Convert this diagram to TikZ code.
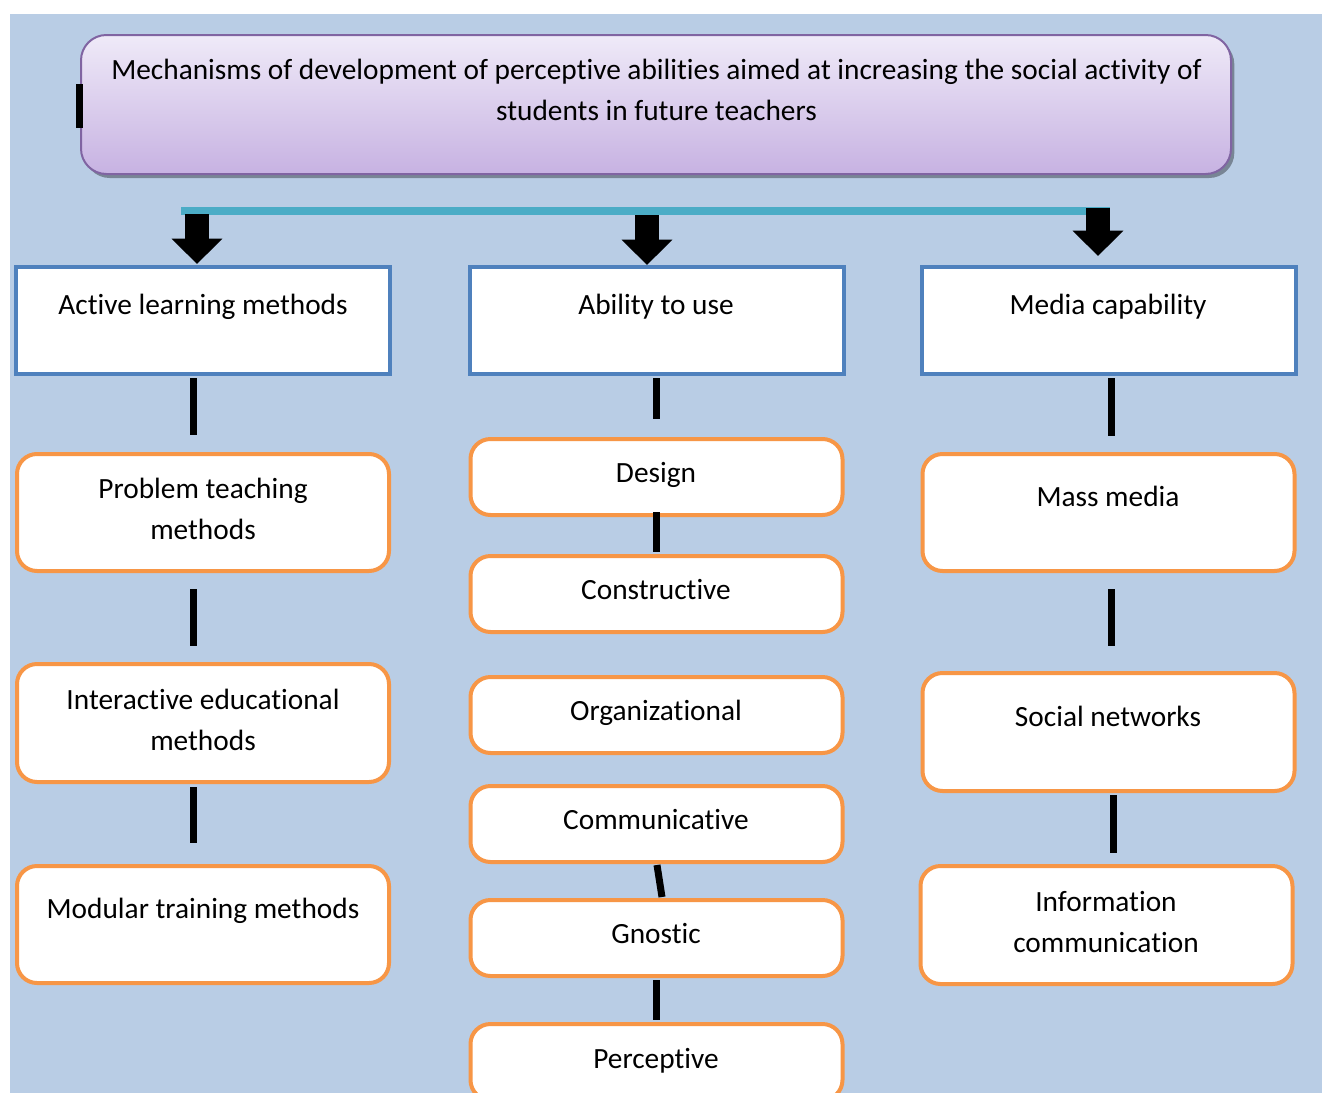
\documentclass[tikz,border=0pt]{standalone}
\usepackage{fontspec}
\setmainfont{Carlito}[Ligatures=NoCommon]
\usetikzlibrary{calc,shadows,arrows.meta}
\definecolor{bgblue}{HTML}{B9CDE5}
\definecolor{boxblue}{HTML}{4F81BD}
\definecolor{boxorange}{HTML}{F79646}
\definecolor{titleborder}{HTML}{8064A2}
\definecolor{titletop}{HTML}{EFEAF8}
\definecolor{titlebot}{HTML}{C7B2E2}
\definecolor{teal}{HTML}{4BACC6}
\begin{document}
\begin{tikzpicture}[x=0.75pt,y=-0.75pt,
  bluebox/.style={draw=boxblue,line width=3pt,fill=white,minimum width=280.5pt,minimum height=80.25pt,inner sep=0pt},
  orangebox/.style={draw=boxorange,line width=3pt,fill=white,rounded corners=15pt,minimum width=279pt,inner sep=0pt},
  titlebox/.style={draw=titleborder,line width=1.5pt,rounded corners=19pt,top color=titletop,bottom color=titlebot,
     minimum width=862.5pt,minimum height=104.25pt,inner sep=0pt,
     drop shadow={shadow xshift=2.5pt,shadow yshift=-3pt,fill=black,opacity=0.35}},
  txt/.style={font=\fontsize{22}{30.75}\selectfont,anchor=base,align=center,inner sep=0pt},
  bar/.style={line width=5.25pt,black},
  blockarrow/.style={line width=18pt,black,-{Triangle[width=37pt,length=19pt]}}
]
\useasboundingbox (0,0) rectangle (1322,1093);
\fill[bgblue] (10,14) rectangle (1322,1093);

% title
\node[titlebox] (title) at (656,104.5) {};
\fill[black] (76,84) rectangle (83,128);
\node[txt] (ttitle) at (656.5,120) {Mechanisms of development of perceptive abilities aimed at increasing the social activity of\\students in future teachers};

% teal bar
\coordinate (tl) at (181,211);
\coordinate (tr) at (1110,211);
\draw[teal,line width=6pt] (tl) -- (tr);

% top boxes
\node[bluebox] (act)   at (203,320.5) {};
\node[bluebox] (abil)  at (656.5,320.5) {};
\node[bluebox] (media) at (1108.5,320.5) {};
\node[txt] (tact)   at (203,314) {Active learning methods};
\node[txt] (tabil)  at (656,314) {Ability to use};
\node[txt] (tmedia) at (1108,314) {Media capability};

% arrows
\coordinate (a1) at (197,214);
\coordinate (a2) at (647,215);
\coordinate (a3) at (1098,208);
\draw[blockarrow] (a1) -- ($(act.north)+(-6,-1)$);
\draw[blockarrow] (a2) -- ($(abil.north)+(-9.5,-0)$);
\draw[blockarrow] (a3) -- ($(media.north)+(-10.5,-9)$);

% left column
\node[orangebox,minimum height=87.75pt] (prob)  at (203,512.5) {};
\node[orangebox,minimum height=88.5pt]  (inter) at (203,723) {};
\node[orangebox,minimum height=87.75pt] (mod)   at (203,924.5) {};
\node[txt] (tprob)  at (203,539) {Problem teaching\\methods};
\node[txt] (tinter) at (203,750) {Interactive educational\\methods};
\node[txt] (tmod)   at (203,918) {Modular training methods};

% middle column
\node[orangebox,minimum height=57pt] (des)  at (656.5,477) {};
\node[orangebox,minimum height=57pt] (cons) at (656.5,594) {};
\node[orangebox,minimum height=57pt] (org)  at (656.5,715) {};
\node[orangebox,minimum height=57pt] (comm) at (656.5,824) {};
\node[orangebox,minimum height=57pt] (gnos) at (656.5,938) {};
\node[orangebox,minimum height=57pt] (perc) at (656.5,1062) {};
\node[txt] (tdes)  at (656,482) {Design};
\node[txt] (tcons) at (656,599) {Constructive};
\node[txt] (torg)  at (656,720) {Organizational};
\node[txt] (tcomm) at (656,829) {Communicative};
\node[txt] (tgnos) at (656,943) {Gnostic};
\node[txt] (tperc) at (656,1068) {Perceptive};

% right column
\node[orangebox,minimum height=87.75pt] (mass) at (1108.5,512.5) {};
\node[orangebox,minimum height=88.5pt]  (soc)  at (1108.5,732) {};
\node[orangebox,minimum height=88.5pt]  (info) at (1106.5,925) {};
\node[txt] (tmass) at (1108,506) {Mass media};
\node[txt] (tsoc)  at (1108,726) {Social networks};
\node[txt] (tinfo) at (1106,952) {Information\\communication};

% connectors
\draw[bar] ($(act.south)+(-10,2)$) -- ($(prob.north)+(-10,-17)$);
\draw[bar] ($(prob.south)+(-10,16)$) -- ($(inter.north)+(-10,-16)$);
\draw[bar] ($(inter.south)+(-10,3)$) -- ($(mod.north)+(-10,-21)$);

\draw[bar] ($(abil.south)+(0,2)$) -- ($(des.north)+(0,-18)$);
\draw[bar] ($(des.south)+(0,-5)$) -- ($(cons.north)+(0,-2)$);
\draw[bar] ($(comm.south)+(0.5,1)$) -- ($(gnos.north)+(5.5,-1)$);
\draw[bar] ($(gnos.south)+(0,2)$) -- ($(perc.north)+(0,-2)$);

\draw[bar] ($(media.south)+(2.5,2)$) -- ($(mass.north)+(2.5,-16)$);
\draw[bar] ($(mass.south)+(2.5,16)$) -- ($(soc.north)+(2.5,-25)$);
\draw[bar] ($(soc.south)+(4.5,2)$) -- ($(info.north)+(6.5,-11)$);
\end{tikzpicture}
\end{document}
